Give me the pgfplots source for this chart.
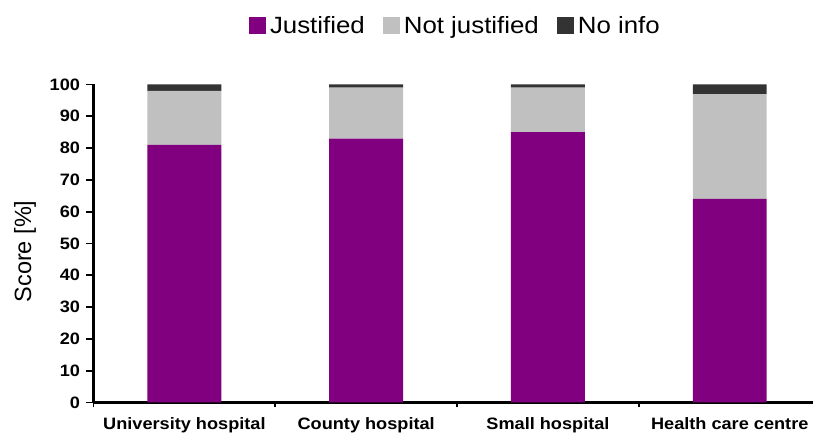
\documentclass[border=0pt]{standalone}
\usepackage{fontspec}
\setmainfont{Liberation Sans}[FakeStretch=1.1]
\newfontfamily\plainsans{Liberation Sans}
\usepackage{pgfplots}
\pgfplotsset{compat=1.18}

\definecolor{justified}{HTML}{800080}
\definecolor{notjustified}{HTML}{C0C0C0}
\definecolor{noinfo}{HTML}{333333}

\begin{document}
\begin{tikzpicture}
\useasboundingbox (0,0) rectangle (813pt,435pt);
\clip (0,0) rectangle (813pt,435pt);
\begin{axis}[
  at={(93.5pt,32.5pt)}, anchor=south west,
  width=719.5pt, height=318pt, scale only axis,
  ybar stacked, bar width=0.407,
  xmin=-0.5, xmax=3.458, ymin=0, ymax=100,
  axis lines*=left,
  axis line style={line width=2.4pt, black},
  xtick={0,1,2,3},
  xticklabels={University hospital, County hospital, Small hospital, Health care centre},
  major x tick style={draw=none},
  minor xtick={-0.5,0.5,1.5,2.5},
  minor tick length=5pt,
  ytick={0,10,...,100},
  major tick length=7pt,
  tick align=outside,
  tick style={black, line width=1.8pt},
  /pgf/number format/assume math mode=true,
  ticklabel style={font=\fontsize{16.5}{19}\selectfont\bfseries},
  xticklabel style={anchor=base, yshift=-20pt},
  yticklabel style={xshift=-3pt},
  ylabel={Score [\%]},
  ylabel style={at={(axis description cs:-0.0952,0.475)}, anchor=center,
    font=\plainsans\fontsize{23.5}{28}\selectfont},
  every axis plot/.append style={draw=none},
  legend columns=-1,
  legend style={draw=none, fill=none, at={(0.503,1.184)}, anchor=center,
    font=\fontsize{23.5}{28}\selectfont,
    /tikz/every even column/.append style={column sep=16pt},
    /tikz/every odd column/.append style={column sep=2pt}},
  legend image code/.code={\fill[#1] (0pt,-8.5pt) rectangle (17pt,8.5pt);},
]
\addplot[fill=justified] coordinates {(0,81) (1,83) (2,85) (3,64)};
\addplot[fill=notjustified] coordinates {(0,17) (1,16) (2,14) (3,33)};
\addplot[fill=noinfo] coordinates {(0,2) (1,1) (2,1) (3,3)};
\legend{Justified, Not justified, No info}
\end{axis}
\end{tikzpicture}
\end{document}
